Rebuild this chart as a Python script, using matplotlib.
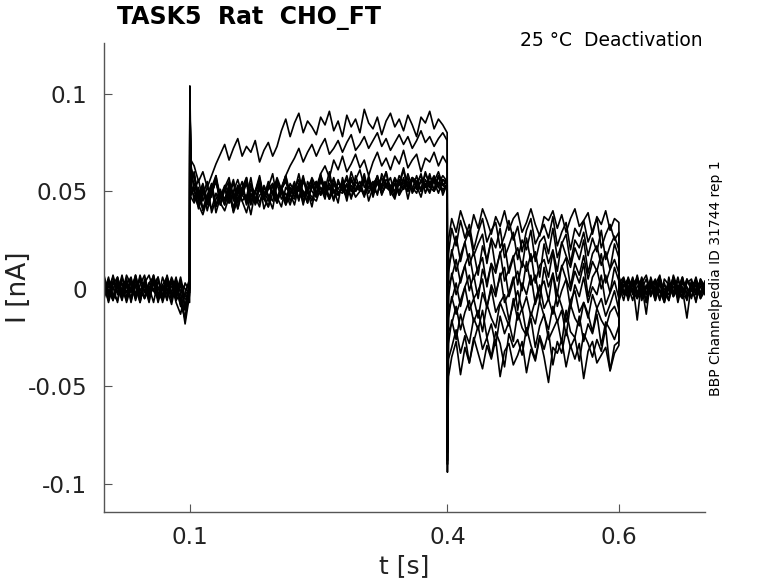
import numpy as np
import matplotlib
matplotlib.use("Agg")
import matplotlib.pyplot as plt

# Current values in pA (converted to nA when drawn)
# Each trace: pre (0-0.1 s), act (0.1-0.4 s: spike, post-spike, samples), deact (0.4-0.6 s: spike, post-spike, samples), post (0.6-0.7 s)
pre = [
    [5,-4,7,-2,3,-7,1,6,-5,2,-3,7,-6,0,4,-2,6,-8,3,-1],
    [-3,6,-6,2,-1,5,-7,4,0,-5,3,6,-4,1,-6,5,-2,4,-10,2],
    [4,-1,-6,5,-3,7,2,-5,6,-2,1,-7,4,-1,5,-4,2,-9,-3,0],
    [-5,3,1,-7,6,-2,4,-6,2,7,-3,0,-5,6,-1,3,-7,-13,-2,5],
    [1,-6,4,-2,7,-4,0,5,-7,3,-1,6,-3,2,-5,4,-6,-2,-16,1],
    [6,-2,-5,3,0,-6,5,-3,7,-1,-4,4,-7,2,6,-3,1,-5,-11,3],
    [-2,5,-4,1,-6,4,-1,7,-3,2,-7,5,0,-4,3,-6,5,-1,-4,-2],
    [3,-7,2,6,-4,1,-2,5,-6,3,7,-1,-5,2,-3,6,0,-8,-15,1],
    [0,4,-3,-6,5,2,-5,7,-2,-4,3,-1,6,-7,1,5,-4,2,-9,4],
    [-4,1,6,-3,-1,5,-6,2,4,-5,0,7,-2,-6,3,1,-3,6,-5,-7],
    [7,-3,0,4,-5,2,6,-4,-1,3,-6,5,1,-3,7,-2,-5,3,0,-2],
    [-1,3,-5,6,-2,-4,4,1,-7,5,-3,2,6,-5,0,-8,3,-2,-18,-3],
]
act_spike = [104, 98, 95, 100, 90, 93, 88, 96, 92, 85, 97, 89]
act_after = [66, 60, 58, 52, 48, 62, 55, 64, 50, 47, 57, 53]
act = [
    [63,55,60,52,58,64,69,74,66,72,77,68,73,70,76,65,71,75,68,73,81,87,78,85,90,80,86,83,79,88,84,91,81,86,78,89,83,87,80,92,85,82,88,79,86,90,83,87,81,89,84,78,88,85,91,82,87,84,80],
    [58,47,53,44,50,55,46,52,57,45,51,48,54,43,50,56,47,53,49,55,51,58,63,67,72,65,70,74,68,73,77,69,72,76,70,75,79,71,74,78,72,76,80,73,77,71,75,79,74,78,72,76,81,75,78,73,77,80,76],
    [54,46,51,43,49,55,47,52,44,50,56,48,45,53,49,57,46,51,54,47,52,58,49,53,46,55,50,57,52,59,63,57,66,61,68,60,64,69,62,66,58,65,70,63,67,61,68,64,71,62,66,69,60,67,65,70,63,68,64],
    [60,44,52,40,49,56,43,51,46,55,41,50,47,57,44,52,48,42,54,46,51,58,45,49,53,43,55,50,47,59,48,52,45,56,50,54,46,58,51,49,57,47,55,52,60,48,54,50,57,46,56,53,59,49,55,51,58,54,52],
    [52,41,48,55,39,46,51,43,49,40,53,45,48,38,50,44,52,47,41,54,46,49,43,51,56,45,50,42,53,48,55,46,51,44,57,49,53,47,50,56,45,52,58,48,54,50,46,55,51,57,49,53,47,56,52,50,58,48,54],
    [57,48,54,45,52,58,47,53,49,56,44,51,55,47,50,58,46,53,49,57,51,45,54,50,59,48,52,56,47,55,51,60,49,54,52,58,50,56,61,52,55,49,57,53,60,51,56,54,62,52,57,55,50,59,54,58,52,56,55],
    [45,52,41,48,54,43,50,46,53,40,49,55,44,51,47,42,53,48,45,56,49,43,52,47,54,50,44,55,49,52,46,57,50,48,54,45,56,51,53,47,58,50,55,49,53,57,48,55,51,59,52,49,56,53,50,57,54,51,53],
    [50,56,45,52,47,58,43,51,55,46,53,48,57,44,50,54,47,52,59,46,51,55,48,53,45,57,50,54,49,58,52,47,56,51,55,49,60,53,50,57,52,55,48,59,54,51,57,53,61,50,56,54,58,52,57,55,60,53,56],
    [48,42,50,45,53,39,47,52,44,49,41,51,46,54,43,48,50,45,53,47,42,52,49,55,46,50,44,53,48,56,51,46,54,49,52,47,57,50,53,48,55,51,58,49,54,52,47,56,53,50,57,51,55,52,59,50,54,53,51],
    [44,50,40,47,53,42,48,45,51,39,46,52,43,49,45,54,41,47,50,44,52,46,49,43,53,47,50,45,55,48,52,46,54,49,51,47,56,50,53,48,55,51,49,57,52,50,54,48,56,53,51,58,50,54,52,55,49,56,53],
    [59,47,53,45,51,56,48,43,54,49,46,52,57,45,50,53,47,55,49,44,51,56,48,53,50,58,46,52,55,49,54,51,57,48,53,56,50,55,52,59,49,54,57,51,56,53,50,58,54,52,57,55,51,60,53,56,54,58,55],
    [50,43,38,46,41,49,44,40,47,42,50,45,39,48,44,51,46,42,49,45,52,43,48,46,53,44,50,47,45,52,48,54,46,50,49,53,47,51,55,48,52,50,54,49,53,51,56,48,52,55,50,54,51,53,49,56,52,50,53],
]
deact_spike = [-70, -80, -75, -88, -65, -94, -72, -84, -78, -70, -82, -90]
deact_after = [25, 18, 12, 8, 2, -4, -10, -15, -22, -28, -36, -45]
deact = [
    [36,29,40,33,27,38,31,41,35,28,37,32,40,30,36,39,29,34,41,33,27,37,35,40,31,38,29,36,41,32,35,39,28,37,33,40,30,36,34],
    [31,22,35,26,33,20,29,36,24,30,34,21,27,35,25,32,19,30,36,23,28,33,26,37,22,29,34,20,31,27,35,24,30,36,21,28,33,25,29],
    [18,27,14,24,30,17,23,28,13,26,21,31,16,22,29,15,25,20,30,14,24,27,18,31,16,23,28,13,25,21,29,17,26,19,30,15,22,27,20],
    [20,9,17,24,12,19,7,22,15,25,10,18,23,8,16,21,11,26,14,19,6,23,13,20,9,24,17,11,21,15,25,8,18,22,12,19,10,23,16],
    [6,15,3,12,18,5,11,16,1,13,8,19,4,10,17,2,14,9,18,3,12,15,6,19,4,11,16,1,13,7,17,5,14,9,18,3,10,15,8],
    [8,-3,5,12,-1,7,-5,10,3,13,-2,6,11,-4,4,9,-1,14,2,7,-6,11,1,8,-3,12,5,-1,9,3,13,-4,6,10,0,7,-2,11,4],
    [-6,3,-9,1,7,-5,-1,5,-10,2,-4,8,-7,-2,6,-11,3,-3,7,-8,0,4,-6,8,-9,-1,5,-10,2,-4,6,-7,1,-3,7,-8,-2,4,-5],
    [-4,-13,-6,1,-11,-5,-15,-2,-9,0,-12,-7,-3,-16,-8,-1,-11,-4,-14,-6,2,-10,-5,-13,-2,-9,-17,-6,-1,-12,-7,-15,-3,-10,-5,-14,-8,-1,-11],
    [-18,-9,-21,-12,-6,-17,-11,-22,-8,-15,-20,-7,-13,-19,-5,-16,-10,-23,-12,-18,-6,-14,-21,-9,-17,-11,-24,-8,-15,-19,-7,-13,-22,-10,-16,-20,-12,-9,-15],
    [-16,-26,-13,-22,-28,-15,-21,-11,-25,-18,-29,-14,-23,-17,-27,-12,-20,-24,-15,-30,-19,-13,-26,-21,-16,-28,-11,-22,-25,-14,-27,-18,-23,-13,-29,-17,-21,-26,-19],
    [-30,-21,-33,-24,-38,-27,-19,-31,-25,-35,-22,-28,-40,-23,-30,-26,-34,-20,-29,-36,-24,-31,-22,-39,-27,-33,-21,-30,-25,-37,-23,-28,-35,-26,-32,-20,-42,-29,-27],
    [-35,-27,-44,-30,-38,-25,-33,-41,-29,-36,-26,-45,-32,-28,-39,-34,-27,-43,-31,-37,-25,-35,-48,-30,-33,-26,-40,-29,-36,-28,-46,-32,-27,-38,-34,-30,-42,-33,-29],
]
post = [
    [4,-3,6,-1,-5,3,7,-2,1,-6,5,2,-4,0,6,-3,3,-7,5,1],
    [-5,2,-1,6,-3,4,-7,1,5,-2,3,-6,7,0,-4,5,-1,2,-5,3],
    [2,-6,4,-2,7,-3,0,5,-5,3,-7,1,4,-2,6,-4,-1,6,-3,0],
    [6,-1,-4,3,5,-6,2,-3,4,-1,-7,6,-4,2,-2,5,0,-6,3,-2],
    [-3,4,1,-6,5,2,-13,6,-2,3,-4,0,5,-5,1,-6,4,-1,-3,2],
    [3,6,-2,4,-5,0,5,-4,2,7,-6,3,-1,-3,4,1,-5,5,-2,0],
    [0,5,-6,3,-2,6,-3,1,4,-5,2,-1,6,-7,3,0,-4,4,1,-3],
    [-6,2,5,-3,1,4,-7,3,-1,5,-4,2,-2,6,-3,-5,3,-1,4,0],
    [3,-3,1,5,-4,2,-2,4,-6,3,0,-3,6,-2,-5,3,5,-3,1,2],
    [1,5,-3,0,4,-2,-5,3,-1,6,-4,2,-3,4,0,-15,3,1,-2,4],
    [-2,2,4,-1,6,-4,1,3,-3,6,-2,-6,3,-1,-4,4,2,-3,5,0],
    [4,-2,-4,3,-16,5,-3,2,-6,4,-2,3,1,-4,5,-3,2,4,-5,-1],
]

title = "TASK5  Rat  CHO_FT"
subtitle = "25 °C  Deactivation"
side_text = "BBP Channelpedia ID 31744 rep 1"
xticks = [0.1, 0.4, 0.6]
yticks = [-0.1, -0.05, 0, 0.05, 0.1]
ytick_labels = ["-0.1", "-0.05", "0", "0.05", "0.1"]

fig = plt.figure(figsize=(7.78, 5.83), dpi=100)
ax = fig.add_axes([104/778, 1-512/583, (705-104)/778, (512-43)/583])

for i in range(len(pre)):
    t = np.concatenate([
        np.linspace(0.0, 0.0997, len(pre[i])),
        [0.1, 0.1012], np.linspace(0.105, 0.3997, len(act[i])),
        [0.4, 0.4012], np.linspace(0.405, 0.5997, len(deact[i])),
        np.linspace(0.6, 0.7, len(post[i])),
    ])
    v = np.concatenate([
        pre[i], [act_spike[i], act_after[i]], act[i],
        [deact_spike[i], deact_after[i]], deact[i], post[i],
    ]) / 1000.0
    ax.plot(t, v, color="black", linewidth=1.2)

ax.set_xlim(0.0, 0.7)
ax.set_ylim(-0.1144, 0.126)
ax.set_xticks(xticks)
ax.set_xticklabels([str(x) for x in xticks])
ax.set_yticks(yticks)
ax.set_yticklabels(ytick_labels)
for s in ["top", "right"]:
    ax.spines[s].set_visible(False)
for s in ["left", "bottom"]:
    ax.spines[s].set_color("#555555")
    ax.spines[s].set_linewidth(1.0)
ax.tick_params(direction="in", length=6, color="#555555", labelsize=16.7, labelcolor="#222222")
ax.tick_params(axis="x", pad=10)
ax.tick_params(axis="y", pad=12)
ax.set_xlabel("t [s]", fontsize=18, color="#222222", labelpad=4)
ax.set_ylabel("I [nA]", fontsize=19, color="#222222")
ax.yaxis.set_label_coords((32 - 104) / 601, 0.48)

fig.text(117/778, 1-18/583, title, fontsize=17, fontweight="bold", ha="left", va="center")
fig.text(703/778, 1-40/583, subtitle, fontsize=13.5, ha="right", va="center")
fig.text(716/778, 1-278/583, side_text, fontsize=10, rotation=90, ha="center", va="center")

fig.savefig("out.png", dpi=100)
